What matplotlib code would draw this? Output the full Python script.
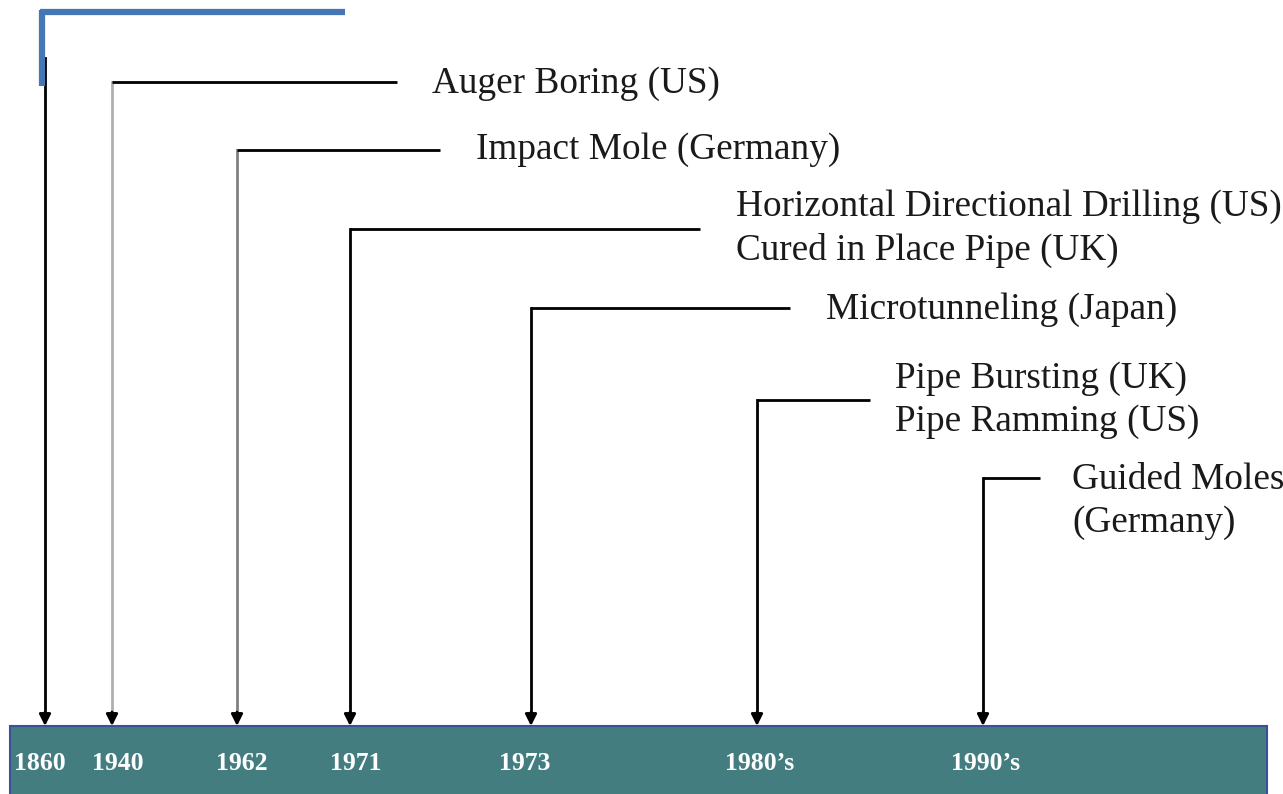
import matplotlib.pyplot as plt
from matplotlib.patches import Rectangle

# timeline entries (year label on the bar, event text)
years = ["1860", "1940", "1962", "1971", "1973", "1980\u2019s", "1990\u2019s"]
events = [
    "",
    "Auger Boring (US)",
    "Impact Mole (Germany)",
    "Horizontal Directional Drilling (US)\nCured in Place Pipe (UK)",
    "Microtunneling (Japan)",
    "Pipe Bursting (UK)\nPipe Ramming (US)",
    "Guided Moles\n(Germany)",
]

# layout in pixel space (diagram, not a data chart)
arrow_x = [43, 112, 237, 350, 531, 757, 983]
arrow_top = [58, 82, 150, 229, 308, 400, 478]
leader_end = [43, 397, 440, 700, 790, 870, 1040]
text_x = [0, 432, 476, 736, 826, 895, 1072]
text_y = [0, 84, 150, 229, 310, 400, 501]
year_x = [40, 118, 242, 356, 525, 760, 986]
shaft_colors = ["black", "#b0b0b0", "#808080", "black", "black", "black", "black"]

W, H = 1283, 794
fig = plt.figure(figsize=(W / 100, H / 100), dpi=100)
ax = fig.add_axes([0, 0, 1, 1])
ax.set_xlim(0, W)
ax.set_ylim(H, 0)
ax.axis("off")

bar_top = 726
ax.add_patch(Rectangle((10, bar_top), 1257, 80, facecolor="#437d80",
                       edgecolor="#3d4f96", lw=1.5, zorder=1))

# blue bracket top-left
ax.plot([40, 345], [12, 12], color="#4677b5", lw=4.5, solid_capstyle="butt", zorder=3)
ax.plot([42, 42], [10, 86], color="#4677b5", lw=4.5, solid_capstyle="butt", zorder=3)

serif = ["Liberation Serif", "DejaVu Serif"]

for i in range(len(years)):
    x = arrow_x[i]
    top = arrow_top[i]
    if i == 0:
        x = x + 2
    ax.plot([x, x], [top, bar_top - 10], color=shaft_colors[i], lw=2, zorder=2)
    ax.annotate("", xy=(x, bar_top), xytext=(x, bar_top - 14),
                arrowprops=dict(arrowstyle="-|>", color="black", lw=2,
                                mutation_scale=17, shrinkA=0, shrinkB=0),
                zorder=2)
    if events[i]:
        ax.plot([x, leader_end[i]], [top, top], color="black", lw=2,
                solid_capstyle="butt", zorder=2)
        ax.text(text_x[i], text_y[i], events[i], family=serif, fontsize=26.8,
                color="#1a1a1a", ha="left", va="center", linespacing=1.32)
    ax.text(year_x[i], 764, years[i], family=serif, fontsize=18.5,
            fontweight="bold", color="white", ha="center", va="center")

fig.savefig("out.png", dpi=100)
